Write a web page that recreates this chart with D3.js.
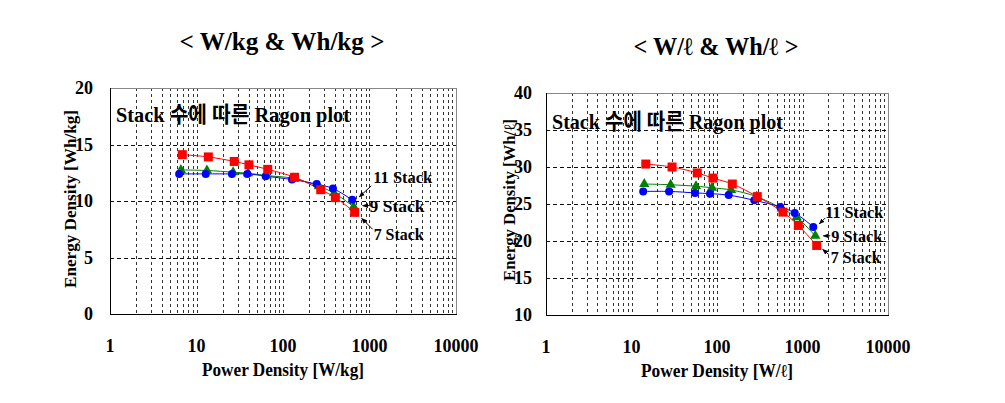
<!DOCTYPE html>
<html><head><meta charset="utf-8">
<script src="https://cdn.jsdelivr.net/npm/d3@7"></script>
<style>
body{margin:0;background:#fff;}
svg text{font-family:"Liberation Serif","Times New Roman",Times,"DejaVu Serif",serif;font-weight:bold;fill:#000;}
svg text.kr{font-family:"Liberation Serif","Times New Roman","Noto Sans CJK KR",serif;}
</style></head>
<body><svg id="c" width="1005" height="403"></svg>
<script>
// ---- data: W/kg & Wh/kg ----
const kg7x  = [6.85, 13.7, 27.3, 40.4, 66.6, 136, 273, 403, 674];
const kg7y  = [14.1, 13.9, 13.5, 13.2, 12.8, 12.1, 11.0, 10.3, 9.0];
const kg9x  = [6.6, 13.2, 26.5, 39.5, 65, 132, 260, 390, 655];
const kg9y  = [12.75, 12.7, 12.55, 12.45, 12.25, 12.0, 11.3, 10.7, 9.5];
const kg11x = [6.3, 12.8, 25.7, 38.7, 63, 127, 245, 378, 632];
const kg11y = [12.4, 12.4, 12.4, 12.4, 12.2, 11.9, 11.5, 11.1, 10.1];
// ---- data: W/l & Wh/l ----
const l7x  = [14.7, 29.8, 58.8, 89.7, 151, 296, 591, 894, 1466];
const l7y  = [30.4, 30.0, 29.2, 28.5, 27.7, 26.0, 23.9, 22.1, 19.4];
const l9x  = [14.1, 28.7, 56.8, 87.4, 146, 291, 571, 855, 1412];
const l9y  = [27.7, 27.6, 27.4, 27.2, 26.9, 26.0, 24.4, 23.2, 20.7];
const l11x = [13.7, 27.5, 55.3, 82.8, 137, 273, 550, 811, 1337];
const l11y = [26.7, 26.7, 26.5, 26.4, 26.2, 25.5, 24.6, 23.8, 21.9];

const xTicks = [1, 10, 100, 1000, 10000];
const yTicksKg = [0, 5, 10, 15, 20];
const yTicksL = [10, 15, 20, 25, 30, 35, 40];
const seriesNames = ["7 Stack", "9 Stack", "11 Stack"];
const titles = ["< W/kg & Wh/kg >", "< W/ℓ & Wh/ℓ >"];
const xTitles = ["Power Density [W/kg]", "Power Density [W/ℓ]"];
const yTitles = ["Energy Density [Wh/kg]", "Energy Density [Wh/ℓ]"];
const innerTitle = "Stack 수에 따른 Ragon plot";

const svg = d3.select("#c");

function panel(o){
  const x = d3.scaleLog().domain([1,10000]).range([o.x0, o.x1]);
  const y = d3.scaleLinear().domain(o.yDom).range([o.y1, o.y0]);
  const g = svg.append("g");
  const vg = [];
  for (let d=1; d<10000; d*=10) for (let k=1;k<10;k++){ const v=d*k; if(v>1) vg.push(v); }
  g.selectAll(".vg").data(vg).enter().append("line")
    .attr("x1",d=>Math.round(x(d))+0.5).attr("x2",d=>Math.round(x(d))+0.5)
    .attr("y1",o.y0).attr("y2",o.y1)
    .attr("stroke","#333").attr("stroke-width",1)
    .attr("stroke-dasharray","3,3");
  g.selectAll(".hg").data(o.yTicks.slice(1,-1)).enter().append("line")
    .attr("x1",o.x0).attr("x2",o.x1)
    .attr("y1",d=>Math.round(y(d))+0.5).attr("y2",d=>Math.round(y(d))+0.5)
    .attr("stroke","#111").attr("stroke-dasharray","4,3");
  g.append("line").attr("x1",o.x0).attr("x2",o.x1).attr("y1",o.y0+0.5).attr("y2",o.y0+0.5).attr("stroke","#888");
  g.append("line").attr("x1",o.x1+0.5).attr("x2",o.x1+0.5).attr("y1",o.y0).attr("y2",o.y1).attr("stroke","#888");
  g.append("line").attr("x1",o.x0+0.5).attr("x2",o.x0+0.5).attr("y1",o.y0).attr("y2",o.y1+0.5).attr("stroke","#000");
  g.append("line").attr("x1",o.x0).attr("x2",o.x1+1).attr("y1",o.y1+0.5).attr("y2",o.y1+0.5).attr("stroke","#000");
  g.selectAll(".xt").data(xTicks).enter().append("text")
    .attr("x",d=>x(d)).attr("y",o.y1+38).attr("text-anchor","middle")
    .attr("font-size",18).text(d=>d);
  g.selectAll(".yt").data(o.yTicks).enter().append("text")
    .attr("x",o.x0-o.yTickGap).attr("y",d=>y(d)+6).attr("text-anchor","end")
    .attr("font-size",18).text(d=>d);
  g.append("text").attr("x",(o.x0+o.x1)/2).attr("y",o.y1+62).attr("text-anchor","middle")
    .attr("font-size",18).attr("textLength",o.xtLen).attr("lengthAdjust","spacingAndGlyphs").text(o.xTitle);
  g.append("text").attr("transform",`translate(${o.ytX},${o.ytY}) rotate(-90)`).attr("text-anchor","middle")
    .attr("font-size",16).attr("textLength",o.ytLen).attr("lengthAdjust","spacingAndGlyphs").text(o.yTitle);
  svg.append("text").attr("x",o.titleX).attr("y",o.titleY).attr("text-anchor","middle")
    .attr("font-size",25).attr("textLength",o.titleLen).attr("lengthAdjust","spacingAndGlyphs").text(o.title);
  g.append("text").attr("class","kr").attr("x",o.x0+6).attr("y",o.innerY).attr("font-size",22)
    .attr("textLength",o.innerLen).attr("lengthAdjust","spacingAndGlyphs").text(innerTitle);

  const line = d3.line().x(d=>x(d[0])).y(d=>y(d[1])).curve(d3.curveCatmullRom.alpha(0.5));
  const ser = o.series;
  ser.forEach(s=>{
    const pts = s.xs.map((v,i)=>[v, s.ys[i]]);
    g.append("path").datum(pts).attr("d",line).attr("fill","none").attr("stroke",s.color).attr("stroke-width",1);
  });
  ser.forEach(s=>{
    const pts = s.xs.map((v,i)=>[v, s.ys[i]]);
    const m = g.selectAll(null).data(pts).enter();
    if (s.shape==="square") m.append("rect").attr("x",d=>x(d[0])-4.5).attr("y",d=>y(d[1])-4.5).attr("width",9).attr("height",9).attr("fill",s.color);
    else if (s.shape==="circle") m.append("circle").attr("cx",d=>x(d[0])).attr("cy",d=>y(d[1])).attr("r",4).attr("fill",s.color);
    else m.append("path").attr("d",d3.symbol(d3.symbolTriangle,46)).attr("transform",d=>`translate(${x(d[0])},${y(d[1])})`).attr("fill",s.color);
  });
  ser.forEach(s=>{
    const n = s.xs.length-1, px = x(s.xs[n]), py = y(s.ys[n]);
    const a = s.ann;
    g.append("line").attr("x1",px+a.ax1).attr("y1",py+a.ay1).attr("x2",px+a.ax2).attr("y2",py+a.ay2)
      .attr("stroke","#000").attr("stroke-width",1).attr("marker-end","url(#arr)");
    g.append("text").attr("x",px+a.tx).attr("y",py+a.ty).attr("font-size",17)
      .attr("textLength",a.len).attr("lengthAdjust","spacingAndGlyphs").text(s.name);
  });
}

svg.append("defs").append("marker").attr("id","arr").attr("viewBox","0 0 10 10").attr("refX",9).attr("refY",5)
  .attr("markerWidth",6).attr("markerHeight",6).attr("orient","auto")
  .append("path").attr("d","M0,1 L10,5 L0,9 z").attr("fill","#000");

// draw order: 9 Stack (green) under 11 Stack (blue) under 7 Stack (red)
panel({x0:110,x1:456,y0:88,y1:314,yDom:[0,20],yTicks:yTicksKg,yTickGap:17,
  title:titles[0],titleX:282,titleY:50,titleLen:205,
  xTitle:xTitles[0],xtLen:162,yTitle:yTitles[0],ytX:76,ytY:199,ytLen:178,
  innerY:122,innerLen:234,
  series:[
    {name:seriesNames[1],xs:kg9x,ys:kg9y,color:"#008000",shape:"triangle",ann:{ax1:17,ay1:-1,ax2:9,ay2:-1,tx:16,ty:5,len:55}},
    {name:seriesNames[2],xs:kg11x,ys:kg11y,color:"#0000ff",shape:"circle",ann:{ax1:19,ay1:-14,ax2:7,ay2:-3,tx:21,ty:-17,len:59}},
    {name:seriesNames[0],xs:kg7x,ys:kg7y,color:"#ff0000",shape:"square",ann:{ax1:18,ay1:17,ax2:7,ay2:6,tx:19,ty:28,len:50}}
  ]});

panel({x0:546,x1:888,y0:93,y1:315,yDom:[10,40],yTicks:yTicksL,yTickGap:14,
  title:titles[1],titleX:716,titleY:55,titleLen:165,
  xTitle:xTitles[1],xtLen:152,yTitle:yTitles[1],ytX:515,ytY:200,ytLen:162,
  innerY:129,innerLen:231,
  series:[
    {name:seriesNames[1],xs:l9x,ys:l9y,color:"#008000",shape:"triangle",ann:{ax1:15,ay1:0,ax2:8,ay2:0,tx:16,ty:6,len:51}},
    {name:seriesNames[2],xs:l11x,ys:l11y,color:"#0000ff",shape:"circle",ann:{ax1:12,ay1:-9,ax2:6,ay2:-3,tx:12,ty:-9,len:58}},
    {name:seriesNames[0],xs:l7x,ys:l7y,color:"#ff0000",shape:"square",ann:{ax1:12,ay1:9,ax2:6,ay2:4,tx:14,ty:18,len:50}}
  ]});
</script></body></html>
